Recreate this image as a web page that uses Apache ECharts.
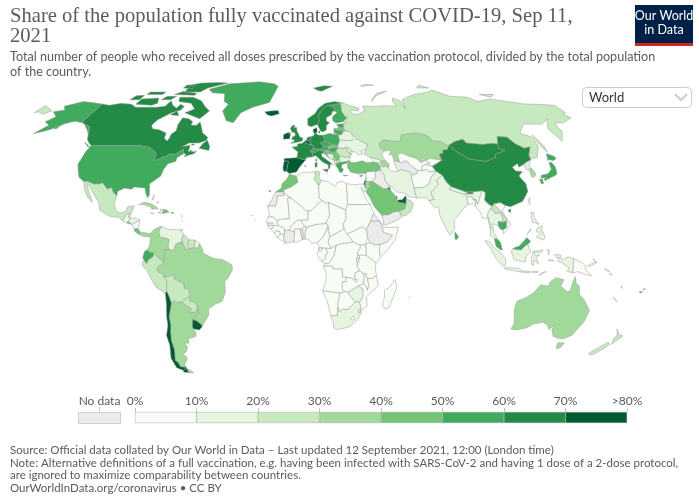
<!DOCTYPE html>
<html><head><meta charset="utf-8">
<style>html,body{margin:0;padding:0;background:#fff}#c{width:699px;height:503px}</style>
<script src="https://cdn.jsdelivr.net/npm/echarts@6/dist/echarts.min.js"></script>
</head><body><div id="c"></div>
<script>
var titleText='Share of the population fully vaccinated against COVID-19, Sep 11,\n2021';
var subtitleText='Total number of people who received all doses prescribed by the vaccination protocol, divided by the total population\nof the country.';
var footerLines=['Source: Official data collated by Our World in Data – Last updated 12 September 2021, 12:00 (London time)',
'Note: Alternative definitions of a full vaccination, e.g. having been infected with SARS-CoV-2 and having 1 dose of a 2-dose protocol,',
'are ignored to maximize comparability between countries.',
'OurWorldInData.org/coronavirus • CC BY'];
var binColors=['#f7fcf5','#e5f5e0','#c7e9c0','#a1d99b','#74c476','#41ab5d','#238b45','#005a32'];
var binStep=10;
var legendBins=[10,10,10,10,10,10,10,10];
var noDataColor='#ebebeb';

var vaccinated={
Canada:65,USA:53,Greenland:55,Mexico:27,Guatemala:6,Belize:18,'El Salvador':42,Honduras:12,Nicaragua:5,'Costa Rica':42,Panama:38,Cuba:35,Haiti:0.1,'Dominican Rep.':45,Jamaica:5,'Puerto Rico':62,Bahamas:18,Trinidad:32,'Lesser Antilles':15,
Colombia:32,Venezuela:14,Guyana:22,Suriname:24,'French Guiana':15,Ecuador:54,Peru:25,Brazil:33,Bolivia:22,Paraguay:21,Uruguay:72,Argentina:38,Chile:72,
Iceland:77,Ireland:73,UK:66,France:64,Spain:76,Portugal:80,Belgium:71,Netherlands:66,Luxembourg:60,Germany:62,Denmark:73,Switzerland:51,Austria:59,Italy:66,Malta:80,Poland:50,Czechia:54,Slovakia:41,Hungary:57,Slovenia:45,Croatia:41,Bosnia:12,Serbia:42,Montenegro:31,Albania:23,'N. Macedonia':25,Greece:56,Bulgaria:18,Romania:26,Moldova:14,Ukraine:11,Belarus:15,Lithuania:55,Latvia:45,Estonia:51,Finland:52,Sweden:61,Norway:63,Turkey:48,Cyprus:65,Russia:27,Georgia:8,Armenia:6,Azerbaijan:32,Kazakhstan:33,
Uzbekistan:7,Kyrgyzstan:5,Tajikistan:4,Afghanistan:2,Pakistan:12,Iran:14,Lebanon:18,Israel:63,Jordan:32,Syria:2,'Saudi Arabia':48,Oman:25,UAE:78,Qatar:75,Kuwait:65,
Egypt:4,Libya:5,Tunisia:22,Algeria:9,Morocco:48,Mauritania:4,Mali:1,Senegal:5,Gambia:3,'Guinea-Bissau':1,Guinea:3,'Sierra Leone':2,Liberia:1,Ghana:3,'Burkina Faso':1,Niger:1,Nigeria:1,Chad:0.3,Cameroon:1,CAR:1,Sudan:1,'South Sudan':0.4,Djibouti:3,Somalia:1,Kenya:2,Uganda:1,Tanzania:0.5,Rwanda:4,Burundi:0.01,DRC:0.1,Congo:2,Gabon:2,'Eq. Guinea':9,Angola:4,Zambia:2,Malawi:2,Mozambique:4,Zimbabwe:14,Botswana:8,Namibia:6,'South Africa':13,Lesotho:9,Eswatini:12,Madagascar:0.5,'Cape Verde':9,Mauritius:60,
India:13,Nepal:15,Bhutan:65,Bangladesh:6,'Sri Lanka':55,Myanmar:7,Thailand:15,Laos:20,Cambodia:55,Vietnam:5,China:66,Mongolia:64,'South Korea':39,Japan:52,Taiwan:5,Philippines:14,Indonesia:14,'Timor-Leste':8,PNG:1,Malaysia:57,Brunei:30,Australia:33,'New Zealand':29,'New Caledonia':32,Fiji:52,Vanuatu:5,Solomon:3
};

var outlines={
Canada:[[-141,69.6,-135,69,-128,70,-120,69.5,-115,68,-108,68,-100,68,-95,68.5,-94,71.5,-90,69,-86,67.5,-85,69.5,-81.5,68.5,-82,66.5,-87,65,-93,61.5,-94.5,58.7,-92.5,57,-88,56.5,-82.5,55,-82,52.5,-79.5,51.2,-79,52.5,-79,54.5,-77,56,-78,59,-77.5,62.5,-73,62,-69.5,60.5,-69.5,58.8,-66,58.8,-64.5,60.3,-62,57.5,-60,55,-56,53,-56,51.5,-60,50.2,-66,50.2,-69,48.5,-65,49.2,-64.5,47.8,-65,46.5,-61.5,46,-60,46.5,-61,45.2,-64,44.5,-66,43.7,-65.5,45.2,-67,45.2,-68,47.3,-70,46,-71.5,45,-75,45,-76.5,44,-79,43.5,-79,43,-83,42,-82.5,45,-84.5,46.5,-88.5,48.2,-95,49,-123,49,-125,50,-128,52,-130,54.5,-133,58,-137,59,-141,60.3],
[-128.3,50.7,-123.5,48.4,-125,48.7],[-59,47.7,-53,46.7,-53,48.5,-55.5,51.5,-57.5,50],[-62,66,-66,62,-72,63.5,-78,65,-73,67,-78,70,-88,71,-90,73.5,-80,73.5,-72,71.5,-67,68.5],[-117,69.5,-105,69,-102,70,-105,73,-117,72.5],[-125,72,-118,72,-118,74.5,-124,74.3],[-90,76.5,-78,76.5,-75,79,-62,82.5,-70,83,-85,82.5,-92,81],[-96,75,-80,74.5,-80,75.8,-92,76.8],[-117,75,-105,75,-105,76.5,-117,76.5],[-87,64,-81,63.5,-84,66],[-102,72,-95,72,-93,74,-100,74],[-95,79,-87,78.5,-88,81,-95,81],[-64,49.9,-62,49.4,-64,49.2],[-64,46.9,-62,46.4,-63.5,46.2]],
USA:[[-123,49,-95,49,-88.5,48.2,-84.5,46.5,-82.5,45,-83,42,-79,43,-79,43.5,-76.5,44,-75,45,-71.5,45,-70,46,-68,47.3,-67,45.2,-70,43.5,-70,41.7,-74,40.6,-75.5,38,-76,35,-81,31.5,-80,26.5,-80.5,25,-82,27,-83,29.5,-85,29.7,-89,30,-90,29,-94,29.5,-97.2,28,-97.2,26,-99.5,27.5,-101,29.7,-103,29,-106.5,31.8,-108,31.4,-111,31.3,-114.8,32.5,-117.1,32.5,-120.5,34.5,-122.5,37.5,-124.3,40.4,-124,46],
[-141,69.6,-141,60.3,-137,59,-133,58,-130,54.5,-133,56.5,-139,59.8,-146,60.7,-151,59.5,-153,58,-158,56,-164,54.6,-160,58.7,-165,60.5,-162,63,-168,65.5,-162,66.5,-166,68.5,-157,71,-148,70.3],[-154,58,-152,57.5,-154,56.8]],
Greenland:[[-73,78.2,-60,82,-35,83.5,-22,82,-18,80,-20,75,-22,70.5,-33,68,-40,65,-43,60,-48,61,-53,66,-51,69.5,-55,71,-58,75.5,-68,76]],
Mexico:[[-117.1,32.5,-114.8,32.5,-111,31.3,-108,31.4,-106.5,31.8,-103,29,-101,29.7,-99.5,27.5,-97.2,26,-97.8,22,-96,19,-94,18.2,-91,18.8,-90.5,21,-87,21.5,-88,18.5,-89.2,17.9,-91,17.2,-91,16,-92.2,14.6,-94.5,16.2,-99,16.6,-105,19.5,-106,23,-109,26,-112.5,30,-114.7,31.7,-113,28.5,-110,24.2,-109.5,23,-112,25,-115,28.5,-116,30.8]],
Guatemala:[[-92.2,14.6,-91,16,-91,17.2,-89.2,17.9,-89.2,15.9,-88.3,15.7,-89.3,14.5,-90.1,13.8]],
Belize:[[-89.2,17.9,-88.2,18.4,-88.3,16,-89.2,15.9]],
'El Salvador':[[-90.1,13.8,-89.3,14.4,-87.8,13.4,-88.5,13.2]],
Honduras:[[-89.3,14.5,-88.3,15.7,-86,16,-83.2,15,-85,14,-87,13,-87.8,13.4]],
Nicaragua:[[-87.6,13,-87,13,-85,14,-83.2,15,-83.7,11,-85.7,11]],
'Costa Rica':[[-85.7,11,-83.7,11,-82.6,9.5,-83,8.3,-85.7,10]],
Panama:[[-83,8.3,-82.6,9.5,-80,9.2,-77.4,8.7,-77.3,7.6,-78,7.4,-80.4,7.4,-81.5,7.8]],
Cuba:[[-84.9,21.9,-82,23.1,-78,22.3,-74.2,20.2,-77.7,19.9,-78.5,21,-82,22]],
Haiti:[[-74.4,18.4,-71.7,18,-71.7,19.8,-73.3,19.9,-72.7,18.6]],
'Dominican Rep.':[[-71.7,18,-68.4,18.5,-69.9,19.7,-71.7,19.8]],
Jamaica:[[-78.3,18.3,-76.3,18.1,-77,17.8]],
'Puerto Rico':[[-67.2,18.4,-65.7,18.3,-66,18,-67.2,18]],
Bahamas:[[-78,25,-77.5,26.5,-77,25,-78.2,24],[-75,23.5,-74.5,22.5,-75.5,23]],
Trinidad:[[-61.9,10.1,-61,10.7,-61,10.1]],
'Lesser Antilles':[[-61.8,16.4,-61.2,16.3,-61.4,15.9],[-61.1,14.8,-60.8,14.4,-61.1,14.4],[-59.7,13.3,-59.4,13.1,-59.7,13],[-62,17.3,-61.6,17.2,-61.8,16.9]],
Colombia:[[-77.4,8.7,-75.5,10.7,-72,12.2,-71.3,11.8,-72.4,11,-72.9,9.5,-72,7,-70,7,-67.5,6.2,-67.9,2.8,-67,1.2,-69.9,1.7,-69.7,-0.6,-70,-4.2,-72.9,-2.4,-75.2,-0.1,-77.4,0.4,-78.8,1.4,-77.3,3.8,-77.3,7.6]],
Venezuela:[[-71.3,11.8,-68,10.7,-64,10.5,-62,10.7,-60,8.5,-61,6.7,-60.7,5.2,-64,4,-64.7,1.5,-67,1.2,-67.9,2.8,-67.5,6.2,-70,7,-72,7,-72.9,9.5,-72.4,11]],
Guyana:[[-60,8.5,-57.2,6,-58,4,-57,2,-59,1.4,-60.7,5.2,-61,6.7]],
Suriname:[[-57.2,6,-54,5.9,-54.5,2.3,-57,2,-58,4]],
'French Guiana':[[-54,5.9,-51.7,4.2,-52.5,2.2,-54.5,2.3]],
Brazil:[[-51.7,4.2,-50,1.5,-50,0,-44.5,-2.5,-40,-2.9,-35.2,-5.3,-34.8,-7.5,-37,-11,-39,-13,-39,-18,-41,-22,-44.5,-23.2,-48.5,-25.5,-48.7,-28.3,-52,-32,-53.4,-33.7,-53.1,-32.8,-55.6,-30.9,-57.6,-30.2,-54,-27.2,-53.8,-25.6,-54.6,-25.6,-54.3,-24,-55.5,-22.3,-58,-22,-58,-20,-57.8,-18,-58.3,-16.3,-60.2,-16.2,-60.5,-13.8,-65.3,-11.8,-65.3,-9.8,-69.5,-11,-70.6,-11,-70.5,-9.5,-72.9,-9,-74,-7.5,-73,-6,-70,-4.2,-69.7,-0.6,-69.9,1.7,-67,1.2,-64.7,1.5,-64,4,-60.7,5.2,-59,1.4,-57,2,-54.5,2.3,-52.5,2.2]],
Ecuador:[[-80.3,-3.4,-81,-2,-80,0.8,-78.8,1.4,-77.4,0.4,-75.2,-0.1,-75.4,-1.5,-78.3,-3.4,-79,-5]],
Peru:[[-80.3,-3.4,-79,-5,-78.3,-3.4,-75.4,-1.5,-75.2,-0.1,-72.9,-2.4,-70,-4.2,-73,-6,-74,-7.5,-72.9,-9,-70.5,-9.5,-70.6,-11,-69,-12.5,-69.4,-15.5,-69.5,-17.5,-70.4,-18.3,-75,-15.5,-77,-12,-79,-8,-81.2,-6,-81.2,-4.3]],
Bolivia:[[-69.4,-15.5,-69,-12.5,-70.6,-11,-69.5,-11,-65.3,-9.8,-65.3,-11.8,-60.5,-13.8,-60.2,-16.2,-58.3,-16.3,-57.8,-18,-58,-20,-62.6,-22.2,-64.3,-22.8,-66.3,-21.8,-67.8,-22.8,-68.5,-20,-69.5,-17.5]],
Paraguay:[[-58,-20,-58,-22,-55.5,-22.3,-54.3,-24,-54.6,-25.6,-55,-26.8,-58.6,-27.3,-57.6,-25.3,-60,-24,-62.6,-22.2]],
Argentina:[[-67.8,-22.8,-66.3,-21.8,-64.3,-22.8,-62.6,-22.2,-60,-24,-57.6,-25.3,-58.6,-27.3,-55,-26.8,-54.6,-25.6,-53.8,-25.6,-54,-27.2,-57.6,-30.2,-58.4,-33.5,-58.3,-34.2,-57,-36.3,-57.7,-38,-62,-39,-62.3,-41,-65,-41,-63.7,-42.6,-65.3,-45,-67.5,-46,-65.8,-48,-69,-51,-68.4,-52.4,-71.9,-52,-72.3,-50,-73.5,-49,-71.7,-44,-71.8,-40,-71,-36,-70,-33,-70,-29,-68.5,-25],[-68.6,-52.7,-65.3,-54.8,-68.6,-54.9]],
Uruguay:[[-58.4,-33.5,-57.6,-30.2,-55.6,-30.9,-53.1,-32.8,-53.4,-33.7,-54.9,-35,-58,-34.5]],
Chile:[[-69.5,-17.5,-68.5,-20,-67.8,-22.8,-68.5,-25,-70,-29,-70,-33,-71,-36,-71.8,-40,-71.7,-44,-73.5,-49,-72.3,-50,-71.9,-52,-68.4,-52.4,-71,-53.8,-74.5,-52.5,-75.5,-48,-73.5,-42,-73.7,-37.5,-71.6,-33,-71.3,-29,-70.4,-23,-70.4,-18.3],[-68.6,-52.7,-68.6,-54.9,-71.5,-54.5,-71,-53.5]],
Iceland:[[-24,65.5,-22,64,-19,63.4,-14,64.5,-15,66.2,-20,66]],
Ireland:[[-10,52,-6.2,52.2,-6,53.9,-7.2,55.2,-10,54.3]],
UK:[[-5.5,50,-1,50.7,1.4,51.2,1.7,52.7,0,53,-1,54.6,-2,56,-2,57.6,-4,57.6,-3,58.6,-5,58.6,-6,57,-5,55.5,-3,55,-3,53.5,-4.5,53.2,-5,52,-3,51.4],[-7.2,55.2,-6,54,-5.5,54.6,-6.2,55.2]],
France:[[-1.8,43.4,-1.2,46,-4.7,48.3,-1.5,48.6,-1.5,49.7,1.5,50.1,2.5,51,4.2,50,5.8,49.5,8.2,49,7.6,47.6,6,46.3,7,45.9,7.5,43.8,4,43.5,3,42.5,0.7,42.7],[8.6,42.3,9.5,43,9.4,41.5]],
Spain:[[-9,43,-8.9,41.9,-6.5,41.7,-7,39.7,-7.4,37.2,-6,36.2,-2,36.8,-0.3,39,3.2,42.4,0.7,42.7,-1.8,43.4],[2.4,39.6,3.4,39.8,3,39.3],[-16.8,28.4,-15.4,28.2,-16,27.8]],
Portugal:[[-8.9,41.9,-9.5,38.8,-8.9,37,-7.4,37.2,-7,39.7,-6.5,41.7]],
Belgium:[[2.5,51,4.2,51.4,6,51,6.1,50.1,5.8,49.5,4.2,50]],
Netherlands:[[3.5,51.4,4.7,53,7.1,53.3,6,51,4.2,51.4]],
Germany:[[6,51,7.1,53.3,8.8,54,8.7,54.9,9.9,54.8,11,54,14.2,53.9,14.8,51,12.2,50.3,13.8,48.7,13,47.5,10,47.3,7.6,47.6,8.2,49,6.4,49.5,6.1,50.1]],
Luxembourg:[[5.8,49.5,6.1,50.1,6.4,49.5]],
Denmark:[[8.7,54.9,8,56.5,10.5,57.7,10.7,56,9.9,54.8],[11,55.3,12.5,56,12.3,55]],
Switzerland:[[6,46.3,7.6,47.6,9.6,47.5,10.4,46.8,9,45.9,7,45.9]],
Austria:[[9.6,47.5,13,47.5,13.8,48.7,17,48.7,16.2,46.9,13.7,46.5,10.4,46.8]],
Italy:[[7,45.9,9,45.9,10.4,46.8,13.7,46.5,13.6,45.7,12.3,45.2,12.5,44,16,41.9,18.4,40.2,17,40.5,16.6,38.8,15.7,38,15.8,40,12.5,41.5,10.2,43.5,8.7,44.4,7.5,43.8],[12.5,38,15.5,38.2,15.1,36.7],[8.3,41,9.7,41,9.5,39.1,8.5,39]],
Malta:[[14.2,36.1,14.6,35.9,14.3,35.7]],
Poland:[[14.2,53.9,18.5,54.8,19.7,54.4,23,54.3,24,52.5,23.6,51,22.7,49.1,19,49.4,14.8,51]],
Czechia:[[12.2,50.3,14.8,51,18.8,49.5,17,48.7,13.8,48.7]],
Slovakia:[[17,48.7,18.8,49.5,22.5,49.1,22.1,48.4,18.8,47.8]],
Hungary:[[16.2,46.9,17,48,18.8,47.8,22.1,48.4,21,46.2,18.5,45.8,16.6,46.5]],
Slovenia:[[13.7,46.5,16.2,46.9,16.6,46.5,15.4,45.5,13.6,45.5]],
Croatia:[[13.6,45.5,15.4,45.5,16.6,46.5,18.5,45.8,19,45,16,45.2,15.8,44.3,17.5,43,18.5,42.5,15.2,44,14.5,45.2,13.7,44.9]],
Bosnia:[[16,45.2,19,45,19.5,43.6,18.5,42.5,17.5,43,15.8,44.3]],
Serbia:[[19,45,18.8,45.9,21,46.2,22.7,44.5,22.4,42.3,20.5,42.3,19.3,43.2,19.5,43.6]],
Montenegro:[[18.5,42.5,19.5,43.6,19.3,43.2,20.1,42.6,19.3,41.9]],
Albania:[[19.3,41.9,20.5,42.3,20.7,40.9,20,39.7,19.3,40.5]],
'N. Macedonia':[[20.5,42.3,22.4,42.3,23,41.3,20.9,40.9]],
Greece:[[20,39.7,20.9,40.9,23,41.3,26.3,41.7,26,40.8,23.5,40.3,23,39,24,38,23,36.5,21.7,36.8,21,38.5],[23.5,35.5,26.3,35.2,24.5,35]],
Bulgaria:[[22.4,42.3,22.7,44.2,25,43.7,28.5,43.6,28,42,26.3,41.7,23,41.3]],
Romania:[[21,46.2,22.1,48,24.8,47.8,27,48.2,28.2,45.5,29.7,45,28.6,43.7,25,43.7,22.7,44.2]],
Moldova:[[27,48.2,29,47.8,30,46.4,28.2,45.5]],
Ukraine:[[22.5,49.1,23.6,51,24,51.7,30.5,51.3,34,52.3,40,49.6,38.2,47.1,35,46.2,36.5,45.3,33.5,44.5,32.5,45.7,30.7,46.5,29.7,45,28.2,45.5,30,46.4,29,47.8,27,48.2,24.8,47.8,22.1,48]],
Belarus:[[23.6,51.5,23.5,54,25.5,54.3,26.7,55.7,28.2,56.1,30.9,55.6,32.7,53.4,30.5,51.3,24,51.7]],
Lithuania:[[21,55.3,21.1,56.4,25,56.3,26.7,55.7,25.5,54.3,23.5,54,22.8,54.4]],
Latvia:[[21.1,56.4,21.6,57.5,23,57,24.4,57.9,27.5,57.5,28.2,56.1,26.7,55.7,25,56.3]],
Estonia:[[24.4,57.9,23.5,59.2,28,59.5,27.5,57.5]],
Finland:[[20.6,69,25.5,69.5,28.5,70,29,69,28.5,66,30,63,31.5,62.9,28,60.5,23,59.9,21.3,61,21.5,63,25,65,24,65.9,23.7,67.5]],
Sweden:[[11.2,59,12.7,56,14.3,55.5,16.5,56.5,16.7,58.5,19,60,17.2,61,17.3,62.5,21,64,22.3,65.8,24,65.9,23.7,67.5,20.6,69,18,68.5,14.5,66,12.2,63.5,12.5,61]],
Norway:[[5,58.7,7,58,10.5,59,11.2,59,12.5,61,12.2,63.5,14.5,66,18,68.5,20.6,69,25.5,69.5,28.5,70,31,70.2,25,71,18,70,13,67.5,10,64.5,5,62],[11,79,20,80.5,27,80,17,77,14,77.5]],
Turkey:[[26.2,39.5,27,40.4,29.5,41.2,31.5,41.2,35,42,38,41,41.5,41.5,43.5,41,44.8,39.7,44.5,37.7,42.4,37.2,36.7,36.8,36.2,36,34,36.3,32.5,36,30.5,36.3,28,36.7,27.3,37.5],[26.3,41.7,28,42,29,41.2,26.5,40.3]],
Cyprus:[[32.3,35,34.5,35.6,33.5,34.7]],
Russia:[[31,70.2,33,69.4,41,67.5,40,66,35,66.5,34.5,65,37,64,40,64.6,44,66,44,68.5,54,68.5,60,68.8,68,68.5,67,71,69,73,73,71.5,73,67,75,72,80,73.5,87,75,100,76.5,105,77.7,113,74,125,73.5,129,71,140,72.5,150,71,160,69.7,170,69.5,180,68.9,180,65,177,64.5,179,62.5,170,60,164,59.9,162.5,57,163,56,156.7,51,155.6,57,160,60.5,163,62,155,59.3,143,59.3,135.3,54.8,141,53,140,48.5,135,43.5,131,42.8,130.6,42.4,131,44.5,135,48.4,131,47.7,127.5,49.8,125.5,53,120,53.3,117,49.7,113,50,108,49.5,98.7,50.2,98,52,92,50.8,87.8,49.2,87,49,83.5,51,80,51,77,54,71,55,62,54,60,51,55,51,50,51.7,47,50,47,48,49,46.5,47.7,45.7,47,44.8,47.5,43,48.5,41.8,46.5,41.8,43.5,42.7,40,43.5,37,45,38.2,47.1,40,49.6,34,52.3,32.7,53.4,30.9,55.6,28.2,56.1,27.5,57.5,28,59.5,30,59.9,28,60.5,31.5,62.9,30,63,28.5,66,29,69],
[-180,68.9,-175,67.5,-170,66,-173,64.3,-178,65.5,-180,65],[142,54,143.5,49,143,46,141.8,48],[19.7,54.4,22.8,54.4,21,55.3],[52,71,57,74,68,77,60,76,54,73],[95,79,105,79,100,81],[137,75,148,75,143,73.5],[50,80,62,81,55,81.5]],
Georgia:[[40,43.5,43.5,42.7,46.5,41.8,45,41.2,43.5,41,41.5,41.5]],
Armenia:[[43.5,41,45,41.2,46.5,39,44.8,39.7]],
Azerbaijan:[[45,41.2,46.5,41.8,48.5,41.8,50,40.3,49,38.4,48,39.6,46.5,39]],
Kazakhstan:[[47,50,50,51.7,55,51,60,51,62,54,71,55,77,54,80,51,83.5,51,87,49,85.5,47,83,47,82.5,45.5,80,45,80.2,42.2,74,43,70.9,42.2,68,41,66,43,61,44.5,58.5,45.5,56,45,56,41.3,53,42,53,45,51,44.5,53,46.8,49,46.5,47,48]],
Uzbekistan:[[56,41.3,56,45,58.5,45.5,61,44.5,66,43,68,41,70.9,42.2,73,40.8,70.5,40.2,68,39.5,67.5,37.3,65,37.5,62,39.5,60,42,57,41]],
Turkmenistan:[[53,42,56,41.3,57,41,60,42,62,39.5,65,37.5,64,36,61,35.5,60.5,36.7,56,38,54,37.3,53,40]],
Kyrgyzstan:[[70.9,42.2,74,43,80.2,42.2,76,40.4,73.5,39.5,70.5,40.2,73,40.8]],
Tajikistan:[[68,39.5,70.5,40.2,73.5,39.5,75,37.5,71.5,36.8,70,38,67.5,37.3]],
Afghanistan:[[61,35.5,64,36,65,37.5,67.5,37.3,70,38,71.5,36.8,75,37.2,71.5,34.5,69.5,31.5,66.5,29.8,61,29.5,61,31.5,60.5,33.5]],
Pakistan:[[61.6,25,61,29.5,66.5,29.8,69.5,31.5,71.5,34.5,75,37.2,77.8,35.5,74,33,74.5,31,70,27.8,70,26,71,24.3,68,23.8,66.7,25.2]],
Iran:[[44.8,39.7,46.5,39,48,39.6,49,38.4,50,37.3,54,37,56,38,60.5,36.7,61,35.5,60.5,33.5,61,31.5,61,29.5,61.6,25,57,25.8,56.5,27,51.5,27.8,49.5,30,48,30.5,46,33,46,35.5,44.5,37.7]],
Iraq:[[42.4,37.2,44.5,37.7,46,35.5,46,33,48,30.5,47.9,30,46.5,29.1,44.5,29.2,40,32,39,32.5,41,34.5,41,36.5]],
Syria:[[36.2,36,36.7,36.8,42.4,37.2,41,36.5,41,34.5,39,32.5,36,32.5,35.8,34.5]],
Lebanon:[[35.2,33.1,36,34.6,36.6,34.2,35.9,33.3]],
Israel:[[34.3,31.3,35,33,35.7,33,35.5,31.5,35,29.5]],
Jordan:[[35,29.5,35.5,31.5,35.7,32.6,39,32.5,37,31.5,38,30.3,36.2,29.2]],
'Saudi Arabia':[[35,28.1,36.2,29.2,38,30.3,37,31.5,39,32.5,40,32,44.5,29.2,46.5,29.1,48.4,28.5,50,26.7,51.2,24.5,52,23,55.2,22.7,55.7,22,55,20,52,19,49,18.6,46,17.3,43.5,17.4,43,16.5,42.7,17,39,21,37,25]],
Yemen:[[43,16.7,43.5,12.7,45,12.8,52,15.5,53,16.7,52,19,49,18.6,46,17.3,43.5,17.4]],
Oman:[[52,19,53,16.7,55,17,58,18.8,59.8,22.5,58.5,23.7,56.5,24.5,56,24.2,55.7,22,55,20]],
UAE:[[51.6,24.1,54,24.2,56,26,56.3,25,56,24.2,55.7,22,55.2,22.7,52,23]],
Qatar:[[50.8,24.7,51.5,25,51.2,26.1,50.9,26]],
Kuwait:[[46.5,29.1,47.9,30,48.3,29.3,48.4,28.5]],
Egypt:[[25,31.6,29,31,32,31.3,34.3,31.3,34.9,29.5,34.2,27.8,32.6,29.9,33.5,28,35,24.5,37,22,31.5,22,25,22]],
Libya:[[11.5,33.1,15.2,32.3,19,30.3,20,32,23,32.7,25,31.6,25,22,24,20,24,19.5,15,23,14,22.5,11.5,24,10,25,10,30.5]],
Tunisia:[[8,36.9,10,37.3,11,36.5,10.2,34.2,11.5,33.1,10,30.5,9,32,7.5,33.8,8.5,35]],
Algeria:[[-2,35,1,36.5,8,36.9,8.5,35,7.5,33.8,9,32,10,30.5,10,25,11.5,24,6,19.4,3.3,19,1,21,-4.8,25,-8.7,27.3,-8.7,28.7,-5,30,-1.2,32.2]],
Morocco:[[-5.9,35.8,-2,35,-1.2,32.2,-5,30,-8.7,28.7,-8.7,27.7,-13,27.7,-10,29.5,-9.7,31.5,-7,33.7]],
'Western Sahara':[[-13,27.7,-8.7,27.7,-8.7,26,-12,26,-12,23.4,-13,21.3,-17,21.3,-15,24]],
Mauritania:[[-17,21.3,-13,21.3,-12,23.4,-12,26,-8.7,26,-8.7,27.3,-4.8,25,-6.5,25,-5.5,15.5,-9.5,15.4,-12,14.8,-14.3,16.6,-16.5,16.1,-16,18]],
Mali:[[-4.8,25,1,21,3.3,19,4.2,19,4.2,15,0.3,14.9,-2,14.5,-4.5,12.3,-5.5,10.4,-8,10.3,-8.5,11.4,-11.4,12.2,-12,14.8,-9.5,15.4,-5.5,15.5,-6.5,25]],
Senegal:[[-17.5,14.7,-16.5,16.1,-14.3,16.6,-12,14.8,-11.4,12.4,-16.7,12.4]],
Gambia:[[-16.8,13.2,-14,13.2,-14,13.7,-16.7,13.7]],
'Guinea-Bissau':[[-16.7,12.4,-13.7,12.6,-13.7,11.7,-15.5,11]],
Guinea:[[-15.2,11,-13.7,11.7,-13.7,12.6,-11.4,12.4,-8.5,11.4,-8,10.3,-8,8.5,-10.3,8.5,-10.5,9.8,-12.3,10,-13.2,8.9]],
'Sierra Leone':[[-13.2,8.9,-12.3,10,-10.5,9.8,-10.3,8.5,-11.5,6.9]],
Liberia:[[-11.5,6.9,-10.3,8.5,-8,8.5,-8.5,7,-7.5,4.4]],
"Cote d'Ivoire":[[-7.5,4.4,-8.5,7,-8,8.5,-8,10.3,-5.5,10.4,-2.8,9.5,-3,5.1]],
Ghana:[[-3,5.1,-2.8,9.5,-2.8,11,0,11,0.6,8,1.2,6.1,-2,4.8]],
Togo:[[0,11,0.9,11,1.6,9,1.6,6.2,1.2,6.1,0.6,8]],
Benin:[[0.9,11,2.3,12.3,3.6,11.7,2.7,9,2.7,6.3,1.6,6.2,1.6,9]],
'Burkina Faso':[[-5.5,10.4,-4.5,12.3,-2,14.5,0.3,14.9,2.3,12.3,0.9,11,0,11,-2.8,11,-2.8,9.5]],
Niger:[[4.2,15,4.2,19,6,19.4,11.5,24,14,22.5,15,23,15.5,16.9,13.5,13.7,12,13.2,8.5,13,3.6,11.7,2.3,12.3,0.3,14.9]],
Nigeria:[[2.7,6.3,2.7,9,3.6,11.7,8.5,13,12,13.2,13.5,13.7,14.5,12,13,9,11.8,7,8.9,4.7,6,4.3,4.5,6.3]],
Chad:[[15,23,24,19.5,24,15.7,22.4,13,22.9,11,19,9,15.5,7.5,14.5,10,15,12,14.5,12,13.5,13.7,15.5,16.9]],
Cameroon:[[8.9,4.7,11.8,7,13,9,14.5,12,15,12,14.5,10,15.5,7.5,14.5,5,16,2,13,2.2,9.8,2.3]],
CAR:[[14.5,5,15.5,7.5,19,9,22.9,11,25,8,27.4,5,22,4.2,18.6,3.5,16,2]],
Sudan:[[22.9,11,22.4,13,24,15.7,24,19.5,24,20,25,22,37,22,38.5,18,36.5,14.3,34.3,10.5,32.5,12,27.2,9.7,24,8.7]],
'South Sudan':[[24,8.7,27.2,9.7,32.5,12,34.3,10.5,35,7,33.5,3.8,30.8,3.6,27.4,5,25,8]],
Eritrea:[[38.5,18,43,12.6,41,14.6,36.5,14.3]],
Ethiopia:[[36.5,14.3,41,14.6,42.4,12.5,42.8,11,43.2,9.4,47.9,8,45,5,42,4,39,3.6,35.9,4.6,35,7,34.3,10.5]],
Djibouti:[[41.8,11.7,42.4,12.5,43.3,11.5,42.8,11]],
Somalia:[[43.3,11.5,51,11.8,49,6,46,2.3,41.6,-1.7,41,-0.9,41,3.9,42,4,45,5,47.9,8,43.2,9.4,42.8,11]],
Kenya:[[34,4.2,35.9,4.6,39,3.6,41,3.9,41,-0.9,41.6,-1.7,39.2,-4.7,37.7,-3.5,34,-1,34,1.2]],
Uganda:[[30.8,3.6,33.5,3.8,34,4.2,34,1.2,34,-1,29.6,-1.4,29.6,0.5,31,2.2]],
Tanzania:[[30.5,-1,34,-1,37.7,-3.5,39.2,-4.7,38.8,-6.5,39.5,-10.2,37.5,-11.6,34.9,-11.6,34,-9.5,32.9,-9.4,30.8,-8.2,29.4,-6,30.5,-3]],
Rwanda:[[29,-2.7,29.6,-1.4,30.5,-1,30.8,-2.4]],
Burundi:[[29,-2.7,30.8,-2.4,30.5,-3,29.4,-4.4]],
DRC:[[12.2,-6,13.1,-4.6,14.4,-4.9,16,-3.5,17.7,-0.5,18.6,3.5,22,4.2,27.4,5,30.8,3.6,31,2.2,29.6,0.5,29.6,-1.4,29,-2.7,29.4,-4.4,29.4,-6,30.8,-8.2,28.5,-9,28.5,-12,29.8,-12.1,29,-13.4,27.2,-11.6,24,-11,22,-11,21.8,-7.3,17,-7.3,16.5,-5.9]],
Congo:[[11.2,-4,13.1,-4.6,14.4,-4.9,16,-3.5,17.7,-0.5,18.6,3.5,16,2,13,2.2,14.4,0,13,-1,13,-2.4]],
Gabon:[[8.8,-0.7,9.8,2.3,13,2.2,14.4,0,13,-1,13,-2.4,11.2,-4]],
'Eq. Guinea':[[9.8,1,9.8,2.3,11.3,2.2,11.3,1]],
Angola:[[12.2,-6,16.5,-5.9,17,-7.3,21.8,-7.3,22,-11,24,-11,24,-13,22,-13,22,-16.2,23.4,-17.6,20.9,-18.3,13.7,-17.4,11.8,-17.3,13.5,-12.5,13.5,-9.5]],
Zambia:[[22,-13,24,-13,24,-11,27.2,-11.6,29,-13.4,29.8,-12.1,28.5,-12,28.5,-9,30.8,-8.2,32.9,-9.4,33.3,-11,33,-14,30.2,-15,28.7,-15.9,25.3,-17.8,23.4,-17.6,22,-16.2]],
Malawi:[[32.9,-9.4,34,-9.5,34.9,-11.6,35.8,-14.8,35.2,-17,34.3,-15,33,-14,33.3,-11]],
Mozambique:[[34.9,-11.6,37.5,-11.6,39.5,-10.2,40.7,-14.8,37,-18,34.8,-20,35.5,-24,32.9,-26,32,-24.5,31.3,-22.4,32.9,-20,32.8,-16.5,30.2,-15,33,-14,34.3,-15,35.2,-17,35.8,-14.8]],
Zimbabwe:[[25.3,-17.8,28.7,-15.9,30.2,-15,32.8,-16.5,32.9,-20,31.3,-22.4,29,-22.2,25.5,-18.9]],
Botswana:[[20,-22,20.9,-18.3,23.4,-17.6,25.3,-17.8,25.5,-18.9,29,-22.2,26.5,-24.7,25,-25.8,22.8,-25.5,21,-26.8,20,-24.7]],
Namibia:[[11.8,-17.3,13.7,-17.4,20.9,-18.3,20,-22,20,-28.4,16.5,-28.6,14.5,-22.5]],
'South Africa':[[16.5,-28.6,20,-28.4,20,-24.7,21,-26.8,22.8,-25.5,25,-25.8,26.5,-24.7,29,-22.2,31.3,-22.4,32,-24.5,32,-25.9,32.9,-26.9,31,-30,27,-33.5,25,-34,20,-34.8,18.3,-34,18,-31.5]],
Lesotho:[[27.3,-29.6,28.5,-28.6,29.4,-29.5,28.2,-30.6]],
Eswatini:[[31,-25.8,32,-25.9,32,-27,31,-27.3]],
Madagascar:[[49.3,-12,50.4,-15.5,47.8,-23,47,-25,45,-25.5,43.5,-23.5,44.3,-20,44,-17,46.5,-15.7,48,-13.5]],
'Cape Verde':[[-25.3,17.1,-24.7,17,-25,16.7],[-23.7,15.3,-23.2,15,-23.6,14.9]],
Mauritius:[[57.3,-20,57.8,-20.1,57.5,-20.5]],
India:[[68,23.8,71,24.3,70,26,70,27.8,74.5,31,74,33,77.8,35.5,79,32.5,81,30.2,80,28.8,88,26.4,88.2,27.9,89,26.8,92,26.9,92,27.8,97.3,28.3,95,25,93.5,22,92.5,24.5,91.3,24,91.5,25.2,88.3,25.9,88.5,22,87,21.3,82.5,17,80.2,15,80,11,77.5,8,76.2,10,73,17,72.7,21,70.5,20.8,69,22.4]],
Nepal:[[80,28.8,81,30.2,88.2,27.9,88,26.4]],
Bhutan:[[89,26.8,89,27.8,92,27.8,92,26.9]],
Bangladesh:[[88.3,25.9,91.5,25.2,91.3,24,92.5,24.5,92.3,21,91,22.5,88.5,22]],
'Sri Lanka':[[80,9.7,81.8,7.5,81,6.2,80,6.2]],
Myanmar:[[92.3,21,92.5,24.5,93.5,22,95,25,97.3,28.3,98.7,27.5,97.5,24,99.5,22,101,21.3,100,20.4,97.8,17.5,99,11.5,98.6,10.5,97.7,16,95,15.8,94.3,18.5]],
Thailand:[[100,20.4,102,18,105,18.4,105.6,15.5,105.6,14,103,14.3,102.8,12.5,100.9,13,100,13.3,100,9.5,102,6.3,100.2,6.5,98.3,8,98.6,10.5,99,11.5,97.8,17.5]],
Laos:[[100,20.4,101,21.3,102,22.4,105,19,107.5,15.5,107.5,14.7,105.6,14,105.6,15.5,105,18.4,102,18]],
Cambodia:[[102.8,12.5,103,14.3,105.6,14,107.5,14.7,107,11.5,105,10.4,103.5,11]],
Vietnam:[[102,22.4,105.5,23,108,21.6,105.8,19,109.3,13,107,10.4,105,8.7,105,10.4,107,11.5,107.5,14.7,107.5,15.5,105,19]],
China:[[73.7,39.5,76,40.4,80.2,42.2,80,45,82.5,45.5,83,47,85.5,47,87.8,49.2,91,46,96,42.8,105,41.7,111.5,43.6,112,45,119,46.7,116,47.8,117,49.7,120,53.3,125.5,53,127.5,49.8,131,47.7,135,48.4,131,44.5,130.6,42.4,128,41.5,124.4,40,121.5,39,122,40.7,118,39,119,37.3,122.5,37,119.5,35,121.8,31.5,121.5,28,117.5,23.5,114,22.3,110.5,21,108,21.6,105.5,23,102,22.4,101,21.3,99.5,22,97.5,24,98.7,27.5,97.3,28.3,92,27.8,89,27.8,88.2,27.9,81,30.2,79,32.5,77.8,35.5,75,37.2],[108.7,19.3,110.5,20,110,18.3]],
Mongolia:[[87.8,49.2,92,50.8,98,52,98.7,50.2,108,49.5,113,50,117,49.7,116,47.8,119,46.7,112,45,111.5,43.6,105,41.7,96,42.8,91,46]],
'North Korea':[[124.4,40,128,41.5,130.6,42.4,127.5,39.7,128.3,38.6,126.7,37.9,125,37.9,125.5,39.5]],
'South Korea':[[126.7,37.9,128.3,38.6,129.4,36,128,34.8,126.3,34.5,126.6,37]],
Japan:[[131,34,132,35.4,136,36,139,38,140,41.3,141.5,41,142,39,141,36,139,35,136.5,34.3,135,33.5,133,34.3],[130,33.5,131.7,33.5,131.3,31.5,130.2,31.5],[132.5,33.9,134.5,34,134,33.3,132.9,32.9],[140,42,141.7,45.3,145,44,145.5,43,143,42,141,42.5]],
Taiwan:[[120.2,23,121.5,25.2,121,22]],
Philippines:[[120.5,16,120.7,18.5,122.2,18.3,122,16,124,13,122,13.8,120.6,14],[122,7,123.5,8.6,125.5,9.8,126.5,7,125.3,5.8,124,6.5],[122,10,123.3,11.5,125.6,12.3,125,10.2,123,9.3],[117.2,8.4,119.5,11.2,119,10]],
Indonesia:[[95.3,5.6,97.5,5.2,100.5,2,103.5,0,106,-3,105.8,-5.8,104.5,-5.8,101,-2.5,98.5,1.7],[105.2,-6.8,108.5,-6.6,112.7,-7,114.5,-7.8,114.4,-8.7,110,-8,106.5,-7.4],[109,1.5,109.6,2,112,1.5,114,1.5,115.5,3,117.6,4.2,118,2,119,1,116.5,-1.5,116,-4,114.5,-4,110.2,-3,109,0],[119.5,-5.5,119,-3,120,0.8,123,1,125,1.5,124,0.3,120.5,0.3,121,-1,123.4,-0.9,121.5,-2,123,-5,121.5,-4,120.5,-3,120.4,-5.5],[115,-8.2,119,-8.3,119,-9,115,-8.8],[119.9,-8.4,123,-8.3,123,-8.8,120,-8.9],[123.5,-10.3,125,-9,125,-9.5],[131,-0.8,134,-0.8,135,-3.3,138,-1.7,141,-2.6,141,-9.1,138,-8.3,138.8,-6.8,135,-4.4,133,-4,132.8,-2.8,134,-2.3,132,-2],[127.5,1.8,128.5,1,128,-0.8],[128,-3,130.8,-3.5,128,-3.5]],
'Timor-Leste':[[125,-9,127.2,-8.4,125,-9.5]],
PNG:[[141,-2.6,145,-4.3,147.7,-6,146.9,-6.8,150.8,-10.4,147,-9.6,143.5,-8.5,141,-9.1],[148.5,-5.6,152,-4.2,152.2,-5,149,-6.2],[150.8,-2.6,152.7,-3.8,152.9,-4.7]],
Malaysia:[[100.2,6.5,102,6.3,103.4,4.7,104.2,1.4,103.4,1.4,101,3],[109.6,2,112,1.5,114,1.5,115.5,3,117.6,4.2,119,5.2,117,7,115,5,113,3.2,111,2.6]],
Brunei:[[114,4.6,115,5,115,4]],
Australia:[[114,-22,113.6,-26,115.7,-32,115,-34.5,118,-35,123.5,-34,126,-32.3,131,-31.5,134,-32.8,135.7,-34.8,137.7,-33,137.5,-35,140,-37.8,143.5,-38.8,146.4,-39,150,-37.5,153,-31,153.5,-26,149,-21,146,-18.8,145.3,-15,143.5,-14,142.5,-10.7,141.6,-13,141,-17,139.5,-17.5,135.5,-15,136.9,-12.2,132.5,-11.2,130,-13,129,-15,125,-14.5,122.2,-18,119,-20],[144.7,-40.7,148.3,-40.9,148,-43,146,-43.6,145,-42]],
'New Zealand':[[172.7,-34.5,174.5,-36,175.5,-37,178.5,-37.7,177,-39.5,175.3,-41.6,175,-40,174,-39.3,175,-38,174.7,-36.9],[172.7,-40.5,174.3,-41.7,172.8,-43.7,171,-45,169,-46.6,166.5,-45.8,168.5,-44,171,-42]],
'New Caledonia':[[164,-20,167,-22.3,166,-21.6]],
Fiji:[[177.3,-17.5,178.7,-17.6,178.3,-18.2,177.3,-18],[179,-16.5,180,-16,179,-17]],
Vanuatu:[[167,-15,167.8,-16,167.2,-16]],
Solomon:[[157,-7,160,-8.5,159,-8.3],[160,-9,161.5,-10,160,-9.6]]
};

var plenTable=[1,.9986,.9954,.99,.9822,.973,.96,.9427,.9216,.8962,.8679,.835,.7986,.7597,.7186,.6732,.6213,.5722,.5322];
var pdfeTable=[0,.062,.124,.186,.248,.31,.372,.434,.4958,.5571,.6176,.6769,.7346,.7903,.8435,.8936,.9394,.9761,1];
var pxPerDegree=1.943,centerX=300,equatorY=253,pdfePx=177.4;
function lookup(t,absLat){var i=Math.min(17,Math.floor(absLat/5)),f=absLat/5-i;return t[i]+(t[i+1]-t[i])*f;}
function project(p){var a=Math.abs(p[1]),s=p[1]<0?1:-1;
  return [centerX+pxPerDegree*lookup(plenTable,a)*p[0],equatorY+s*pdfePx*lookup(pdfeTable,a)];}
function unproject(q){var d=Math.abs(q[1]-equatorY)/pdfePx,i=0;while(i<17&&pdfeTable[i+1]<d)i++;
  var a=5*(i+(d-pdfeTable[i])/(pdfeTable[i+1]-pdfeTable[i]));
  return [(q[0]-centerX)/pxPerDegree/lookup(plenTable,a),q[1]>equatorY?-a:a];}

var features=[],minX=1e9,minY=1e9,maxX=-1e9,maxY=-1e9;
Object.keys(outlines).forEach(function(name){
  var polys=outlines[name].map(function(flat){var ring=[];
    for(var i=0;i<flat.length;i+=2){var pt=[flat[i],flat[i+1]];ring.push(pt);
      var q=project(pt);minX=Math.min(minX,q[0]);maxX=Math.max(maxX,q[0]);minY=Math.min(minY,q[1]);maxY=Math.max(maxY,q[1]);}
    ring.push(ring[0]);return [ring];});
  features.push({type:'Feature',properties:{name:name},geometry:{type:'MultiPolygon',coordinates:polys}});
});
echarts.registerMap('owid',{type:'FeatureCollection',features:features});
var mapData=Object.keys(vaccinated).map(function(n){return {name:n,value:vaccinated[n]};});
var pieces=binColors.map(function(c,i){return {gte:i*binStep,lt:(i+1)*binStep,color:c};});
pieces[7].lt=1000;

var ink='#5b5b5b',lato='Lato';
var graphics=[
 {type:'rect',silent:true,shape:{x:635,y:5,width:58,height:41},style:{fill:'#002147'}},
 {type:'rect',silent:true,shape:{x:635,y:43,width:58,height:3},style:{fill:'#ce261e'}},
 {type:'text',silent:true,style:{x:664,y:23,text:'Our World\nin Data',fill:'#fff',font:'12.5px Lato',align:'center',verticalAlign:'middle',lineHeight:14}},
 {type:'rect',silent:true,shape:{x:582.5,y:87.5,width:109,height:20,r:4},style:{fill:'#fff',stroke:'#ccc',lineWidth:1}},
 {type:'text',silent:true,style:{x:589,y:98,text:'World',fill:'#333',font:'13px Lato',verticalAlign:'middle'}},
 {type:'polyline',silent:true,shape:{points:[[675,94],[681,100],[687,94]]},style:{stroke:'#ccc',lineWidth:2,fill:'none'}},
 {type:'rect',silent:true,shape:{x:78.5,y:412.5,width:42,height:11},style:{fill:noDataColor,stroke:'#aaa',lineWidth:.5}},
 {type:'line',silent:true,shape:{x1:99.5,y1:407,x2:99.5,y2:412},style:{stroke:'#aaa',lineWidth:.6}},
 {type:'text',silent:true,style:{x:99.5,y:401,text:'No data',fill:ink,font:'12px Lato',align:'center',verticalAlign:'middle'}}
];
footerLines.forEach(function(t,i){graphics.push({type:'text',silent:true,style:{x:10,y:450+i*12.8,text:t,fill:ink,font:'11.5px Lato',verticalAlign:'middle'}});});

var legendSeries=legendBins.map(function(v,i){return {type:'bar',stack:'bins',xAxisIndex:0,yAxisIndex:0,data:[v],barWidth:'100%',silent:true,
  itemStyle:{color:binColors[i],borderColor:'#999',borderWidth:.4}};});

var chart=echarts.init(document.getElementById('c'),null,{renderer:'canvas'});
chart.setOption({
 animation:false,backgroundColor:'#fff',
 title:{text:titleText,left:10,top:7,padding:0,itemGap:1,
   textStyle:{fontFamily:'Liberation Serif',fontWeight:'normal',fontSize:20.6,lineHeight:20,color:ink},
   subtext:subtitleText,subtextStyle:{fontFamily:lato,fontSize:12.6,lineHeight:15,color:ink}},
 tooltip:{show:false},
 visualMap:{show:false,type:'piecewise',seriesIndex:0,pieces:pieces},
 grid:{left:135,width:492,top:412,height:11,containLabel:false},
 xAxis:{type:'value',position:'top',min:0,max:80,interval:10,splitLine:{show:false},axisLine:{show:false},
   axisTick:{show:true,length:4,lineStyle:{color:'#999',width:.6}},
   axisLabel:{margin:5,fontFamily:lato,fontSize:12,color:ink,formatter:function(v){return v===80?'>80%':v+'%';}}},
 yAxis:{type:'category',data:['bins'],show:false},
 graphic:graphics,
 series:[{type:'map',map:'owid',projection:{project:project,unproject:unproject},
   left:minX,top:minY,width:maxX-minX,height:maxY-minY,roam:false,silent:true,data:mapData,
   itemStyle:{areaColor:noDataColor,borderColor:'#9a9a9a',borderWidth:.5},
   label:{show:false},emphasis:{disabled:true},select:{disabled:true}}].concat(legendSeries)
});
</script></body></html>
